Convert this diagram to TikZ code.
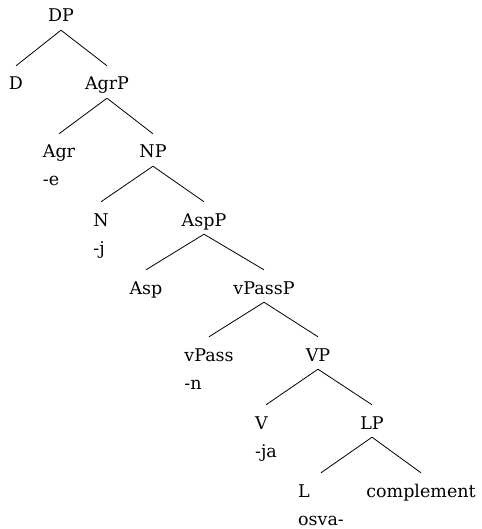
\documentclass[tikz,border=0pt]{standalone}
\usepackage{fontspec}
\setmainfont{DejaVu Serif}
% two-line label: category on top, morpheme below, left aligned
\newcommand{\catmorph}[2]{\begin{tabular}[t]{@{}l@{}}#1\\#2\end{tabular}}
\begin{document}
\begin{tikzpicture}[x=1pt,y=-1pt,
  lbl/.style={anchor=base,inner xsep=0pt,inner ysep=4pt,
    text height=20pt,text depth=4pt,
    font=\fontsize{17.5}{28}\selectfont},
  branch/.style={line width=0.8pt}]
\useasboundingbox (0,0) rectangle (481,529);

\node[lbl] (DP)     at (61,22)   {DP};
\node[lbl] (D)      at (16,90)   {D};
\node[lbl] (AgrP)   at (107,90)  {AgrP};
\node[lbl] (Agr)    at (59,158)  {\catmorph{Agr}{-e}};
\node[lbl] (NP)     at (153,158) {NP};
\node[lbl] (N)      at (101,226) {\catmorph{N}{-j}};
\node[lbl] (AspP)   at (204,226) {AspP};
\node[lbl] (Asp)    at (146,294) {Asp};
\node[lbl] (vPassP) at (264,294) {vPassP};
\node[lbl] (vPass)  at (209,361) {\catmorph{vPass}{-n}};
\node[lbl] (VP)     at (318,361) {VP};
\node[lbl] (V)      at (266,429) {\catmorph{V}{-ja}};
\node[lbl] (LP)     at (372,429) {LP};
\node[lbl] (L)      at (321,497) {\catmorph{L}{osva-}};
\node[lbl] (compl)  at (421,497) {complement};

\draw[branch] (DP.south) -- (D.north);
\draw[branch] (DP.south) -- (AgrP.north);
\draw[branch] (AgrP.south) -- (Agr.north);
\draw[branch] (AgrP.south) -- (NP.north);
\draw[branch] (NP.south) -- (N.north);
\draw[branch] (NP.south) -- (AspP.north);
\draw[branch] (AspP.south) -- (Asp.north);
\draw[branch] (AspP.south) -- (vPassP.north);
\draw[branch] (vPassP.south) -- (vPass.north);
\draw[branch] (vPassP.south) -- (VP.north);
\draw[branch] (VP.south) -- (V.north);
\draw[branch] (VP.south) -- (LP.north);
\draw[branch] (LP.south) -- (L.north);
\draw[branch] (LP.south) -- (compl.north);
\end{tikzpicture}
\end{document}
